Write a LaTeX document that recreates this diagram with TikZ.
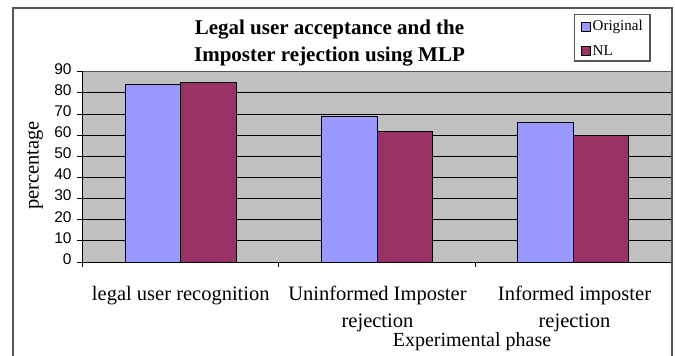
\documentclass[tikz,border=0pt]{standalone}
\usepackage{fontspec}
\setmainfont{Liberation Serif}
\newfontfamily\axisfont{Liberation Sans}
\definecolor{origc}{HTML}{9999FF}
\definecolor{nlc}{HTML}{993366}
\definecolor{plotbg}{HTML}{C0C0C0}
\definecolor{framec}{HTML}{555555}
\tikzset{
  serif20/.style={font=\fontsize{20.5}{24}\selectfont, inner sep=0pt},
  titlefont/.style={font=\fontsize{21}{26}\selectfont\bfseries, inner sep=0pt},
  ticklab/.style={font=\axisfont\fontsize{15.5}{18}\selectfont, inner sep=0pt, anchor=mid east},
  legtext/.style={font=\fontsize{15}{18}\selectfont, inner sep=0pt, anchor=base west},
  barO/.style={fill=origc, draw=black, line width=0.8pt},
  barN/.style={fill=nlc, draw=black, line width=0.8pt},
  gridl/.style={draw=black, line width=0.8pt},
}
\begin{document}
\begin{tikzpicture}[x=1pt,y=-1pt]
\path[use as bounding box] (0,0) rectangle (675,356);
% outer frame
\draw[framec, line width=1.4pt] (13,357) -- (13,8) -- (672,8) -- (672,357);
% plot area
\fill[plotbg] (82.7,71.7) rectangle (671,262);
\begin{scope}[shift={(82.7,262)}, y=2.1144pt]
  \foreach \v in {10,20,...,80} {
    \draw[gridl] (0,\v) -- (588.3,\v);
  }
  \draw[draw=framec, line width=0.9pt] (0,90) -- (588.3,90);
  % y ticks and labels
  \foreach \v in {0,10,...,90} {
    \draw[black, line width=0.8pt] (-5.5,\v) -- (0,\v);
    \node[ticklab] (yl\v) at (-11,\v) {\v};
  }
  % x ticks
  \foreach \c/\n in {0/a,196.1/b,392.2/c} {
    \draw[black, line width=0.8pt] (\c,0) -- (\c,-2.4);
  }
  % bars
  \foreach \c/\o/\nl/\k in {0/84/85/1, 196.1/69/62/2, 392.2/66/60/3} {
    \draw[barO] (\c+42.3,0) rectangle (\c+98.1,\o);
    \draw[barN] (\c+98.1,0) rectangle (\c+153.9,\nl);
  }
  % axes
  \draw[black, line width=0.9pt] (0,90) -- (0,0) -- (588.3,0);
\end{scope}
% title
\node[titlefont, anchor=base] (title1) at (329.5,34.3) {Legal user acceptance and the};
\node[titlefont, anchor=base] (title2) at (329.5,61.3) {Imposter rejection using MLP};
% legend
\draw[framec, line width=1.1pt, fill=white] (574.3,14.7) rectangle (650,61);
\draw[fill=origc, draw=black, line width=0.7pt] (581,22.5) rectangle (590,31);
\draw[fill=nlc, draw=black, line width=0.7pt] (581,46.5) rectangle (590,55);
\node[legtext] (lg1) at (592.5,30.7) {Original};
\node[legtext] (lg2) at (592.5,55) {NL};
% axis title
\node[serif20, rotate=90] (ylab) at (35,165.5) {percentage};
% category labels
\node[serif20, anchor=base] (c1) at (180.8,300) {legal user recognition};
\node[serif20, anchor=base] (c2a) at (377.5,300) {Uninformed Imposter};
\node[serif20, anchor=base] (c2b) at (377.5,327) {rejection};
\node[serif20, anchor=base] (c3a) at (574.5,300) {Informed imposter};
\node[serif20, anchor=base] (c3b) at (574.5,327) {rejection};
\node[font=\fontsize{20}{24}\selectfont, inner sep=0pt, anchor=base] (xlab) at (472,346.7) {Experimental phase};
\end{tikzpicture}
\end{document}
